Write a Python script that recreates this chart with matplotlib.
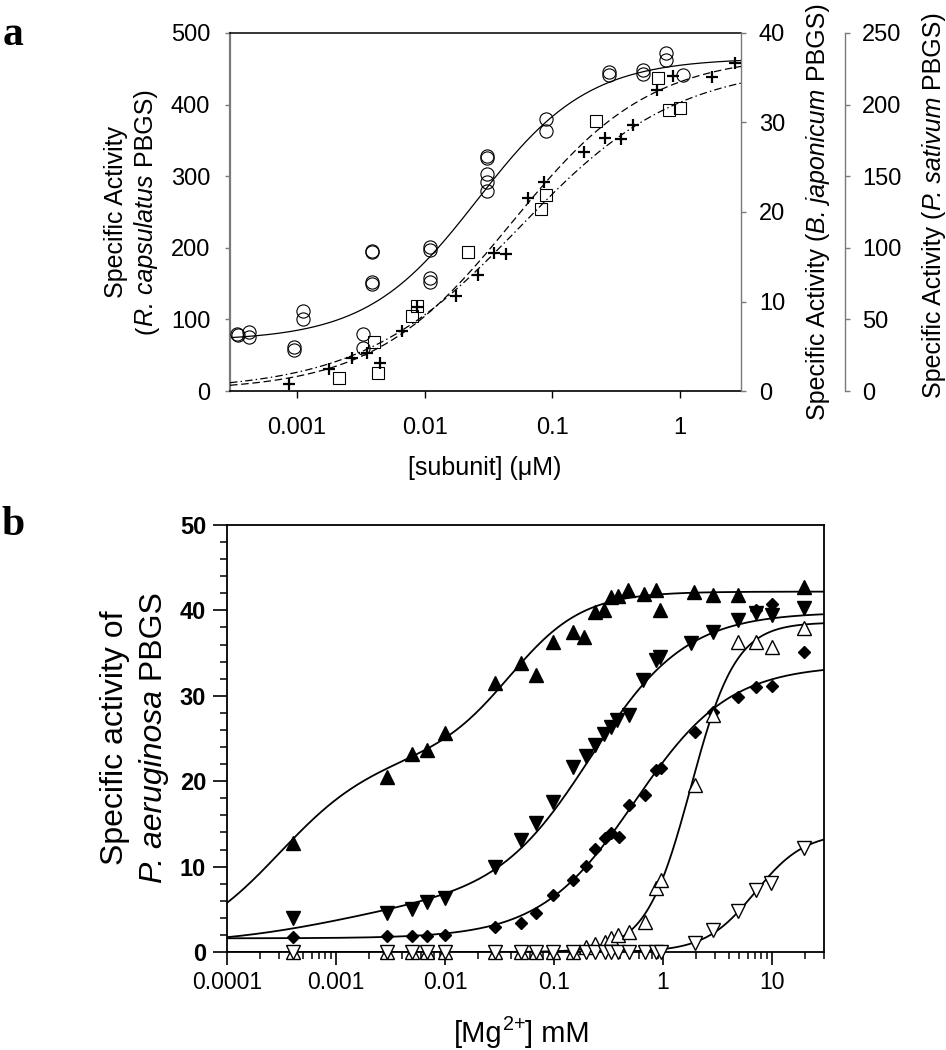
import numpy as np
import matplotlib
matplotlib.use("Agg")
import matplotlib.pyplot as plt
from matplotlib.transforms import IdentityTransform
from matplotlib.ticker import FixedLocator, FixedFormatter, NullLocator, LogLocator, MultipleLocator, NullFormatter

plt.rcParams['font.family'] = ['Liberation Sans', 'DejaVu Sans']

# ---------------- Panel a data ----------------
rc_x = [0.00034, 0.00035, 0.00042, 0.00042, 0.00095, 0.00095, 0.00111, 0.00111,
        0.00327, 0.00327, 0.00385, 0.00385, 0.00385, 0.00385,
        0.0111, 0.0111, 0.0111, 0.0111, 0.0308, 0.0308, 0.0308, 0.0308, 0.0308,
        0.089, 0.089, 0.275, 0.275, 0.507, 0.507, 0.78, 0.78, 1.055]
rc_y = [80, 78, 82, 76, 61, 57, 112, 100, 80, 60, 196, 194, 152, 150,
        201, 197, 158, 152, 328, 325, 303, 292, 280, 380, 363, 446, 441,
        448, 443, 472, 462, 441]

bj_x = [0.00216, 0.0040, 0.00436, 0.0080, 0.00877, 0.0219, 0.081, 0.089, 0.219, 0.675, 0.82, 1.0]
bj_y = [1.45, 5.5, 2.0, 8.4, 9.5, 15.5, 20.3, 21.9, 30.2, 35.0, 31.4, 31.6]

ps_x = [0.00087, 0.00178, 0.0027, 0.00357, 0.00444, 0.0066, 0.00877, 0.0177, 0.0262,
        0.035, 0.0435, 0.0646, 0.0857, 0.176, 0.26, 0.341, 0.43, 0.66, 0.88, 1.77, 2.7]
ps_y = [4.9, 15.4, 23, 26.5, 19.6, 42, 59, 66, 81, 96.4, 96, 135, 146, 167, 177,
        176, 186, 210, 220, 219, 229]

# fitted curve parameters (base, [(amplitude, K, n), ...])
rc_fit = (70, [(395, 0.026, 1.0)])
bj_fit = (0, [(36.5, 0.055, 0.70)])
ps_fit = (0, [(235, 0.048, 0.80)])

a_xticks = [0.001, 0.01, 0.1, 1]
a_xticklabels = ["0.001", "0.01", "0.1", "1"]

# ---------------- Panel b data ----------------
upf_x = [0.0004, 0.00295, 0.0050, 0.00686, 0.0100, 0.029, 0.0494, 0.0677, 0.0989, 0.148,
         0.19, 0.24, 0.29, 0.335, 0.39, 0.48, 0.67, 0.87, 0.94, 1.92, 2.86, 4.84, 19.5]
upf_y = [12.8, 20.5, 23.2, 23.7, 25.6, 31.5, 33.8, 32.4, 36.3, 37.5,
         36.9, 39.8, 40.0, 41.6, 41.7, 42.4, 41.9, 42.4, 40.0, 42.2, 41.8, 41.8, 42.7]

dnf_x = [0.0004, 0.00295, 0.005, 0.00686, 0.0100, 0.029, 0.0494, 0.0677, 0.0989, 0.148,
         0.195, 0.24, 0.29, 0.335, 0.38, 0.49, 0.66, 0.87, 0.94, 1.8, 2.86, 4.84, 7.1, 9.9, 19.5]
dnf_y = [4.0, 4.6, 5.0, 5.8, 6.3, 10.0, 13.1, 15.1, 17.6, 21.7,
         23.0, 24.2, 25.5, 26.3, 27.2, 27.8, 31.8, 34.2, 34.5, 36.2, 37.5, 38.9, 39.7, 39.5, 40.3]

dia_x = [0.0004, 0.00295, 0.005, 0.00686, 0.01, 0.029, 0.0494, 0.069, 0.0989, 0.15,
         0.195, 0.24, 0.295, 0.335, 0.395, 0.49, 0.68, 0.87, 0.95, 1.96, 2.86, 4.84,
         7.1, 9.9, 7.1, 9.9, 19.5]
dia_y = [1.8, 1.9, 1.9, 1.9, 2.0, 2.9, 3.4, 4.6, 6.7, 8.4,
         10.1, 12.1, 13.3, 13.9, 13.5, 17.2, 18.4, 21.3, 21.5, 25.8, 28.1, 29.9,
         31.0, 31.1, 40.0, 40.8, 35.1]

upo_x = [0.0004, 0.00295, 0.005, 0.00686, 0.01, 0.029, 0.0494, 0.069, 0.0989, 0.15,
         0.195, 0.24, 0.295, 0.335, 0.39, 0.49, 0.68, 0.87, 0.95, 1.96, 2.86, 4.84, 7.1, 9.9, 19.5]
upo_y = [0, 0, 0, 0, 0, 0, 0, 0, 0, 0,
         0.6, 0.9, 1.2, 1.6, 2.0, 2.4, 3.5, 7.5, 8.4, 19.6, 27.8, 36.3, 36.3, 35.7, 37.9]

dno_x = [0.0004, 0.00295, 0.005, 0.00686, 0.01, 0.029, 0.0494, 0.069, 0.0989, 0.15,
         0.195, 0.24, 0.295, 0.335, 0.39, 0.49, 0.68, 0.87, 0.95, 1.96, 2.9, 4.84, 7.1, 9.7, 19.5]
dno_y = [0, 0, 0, 0, 0, 0, 0, 0, 0, 0,
         0, 0, 0, 0, 0, 0, 0, 0, 0, 1.1, 2.6, 4.8, 7.3, 8.1, 12.2]

upf_fit = (0, [(23, 0.0003, 1.0), (19.2, 0.04, 1.3)])
dnf_fit = (0.8, [(5.5, 0.001, 0.7), (33.5, 0.22, 1.0)])
dia_fit = (1.6, [(32, 0.55, 1.0)])
upo_fit = (0, [(38.6, 1.8, 2.1)])
dno_fit = (0, [(14, 7.0, 1.9)])

b_xticks = [0.0001, 0.001, 0.01, 0.1, 1, 10]
b_xticklabels = ["0.0001", "0.001", "0.01", "0.1", "1", "10"]
b_yticks = [0, 10, 20, 30, 40, 50]


def hill(x, fit):
    base, terms = fit
    y = np.full_like(x, base, dtype=float)
    for A, K, n in terms:
        y += A * x ** n / (K ** n + x ** n)
    return y


W, H = 946, 1050
fig = plt.figure(figsize=(W / 100, H / 100), dpi=100)
renderer = fig.canvas.get_renderer()


def fx(px):
    return px / W


def fy(py):
    return 1 - py / H


def text_width(s, size, style):
    t = fig.text(0, 0, '|' + s + '|', fontsize=size, fontstyle=style)
    w1 = t.get_window_extent(renderer).width
    t.set_text('||')
    w2 = t.get_window_extent(renderer).width
    t.remove()
    return w1 - w2


def rich_label(cx, cy, lines, size, rotation=0, spacing=1.2):
    """Draw multi-style text centred at reference pixel (cx, cy).
    lines: list of lines, each a list of (text, style, scale, rise_em)."""
    X, Y = cx, H - cy
    em = size * 100 / 72
    n = len(lines)
    for k, pieces in enumerate(lines):
        widths = [text_width(s, size * sc, st) for s, st, sc, r in pieces]
        total = sum(widths)
        d = (k - (n - 1) / 2) * spacing * em + 0.36 * em
        a = -total / 2
        for (s, st, sc, r), w in zip(pieces, widths):
            rise = r * em
            if rotation == 0:
                x, y = X + a, Y - d + rise
            else:
                x, y = X + d - rise, Y + a
            fig.text(x, y, s, transform=IdentityTransform(), fontsize=size * sc,
                     fontstyle=st, rotation=rotation, rotation_mode='anchor',
                     ha='left', va='baseline')
            a += w


GRAY = '#7a7a7a'

# ================= Panel a =================
axL, axR, axT, axB = 230, 741, 33, 391
ax1 = fig.add_axes([fx(axL), fy(axB), fx(axR - axL), (axB - axT) / H])
ax1.set_xscale('log')
xmin_a, xmax_a = 10 ** -3.522, 10 ** 0.475
ax1.set_xlim(xmin_a, xmax_a)
ax1.set_ylim(0, 500)
ax2 = ax1.twinx()
ax2.set_ylim(0, 40)
ax3 = ax1.twinx()
ax3.set_ylim(0, 250)
ax3.spines['right'].set_position(('axes', (845 - axL) / (axR - axL)))

xa = np.logspace(np.log10(xmin_a), np.log10(xmax_a), 400)
ax1.plot(xa, hill(xa, rc_fit), color='black', lw=0.9, zorder=2)
ax1.plot(rc_x, rc_y, linestyle='none', marker='o', ms=9.5, mfc='none', mec='black',
         mew=0.8, clip_on=False, zorder=3)
ax2.plot(xa, hill(xa, bj_fit), color='black', lw=0.9, dashes=[6, 2.5, 1.2, 2.5])
ax2.plot(bj_x, bj_y, linestyle='none', marker='s', ms=8, mfc='none', mec='black',
         mew=0.8, clip_on=False)
ax3.plot(xa, hill(xa, ps_fit), color='black', lw=0.9, dashes=[6, 3])
ax3.plot(ps_x, ps_y, linestyle='none', marker='+', ms=8, mec='black', mew=1.6,
         clip_on=False)

for a in (ax1, ax2, ax3):
    for s in a.spines.values():
        s.set_visible(False)
ax1.spines['left'].set_visible(True)
ax1.spines['left'].set_color(GRAY)
ax1.spines['left'].set_linewidth(1.6)
ax1.spines['top'].set_visible(True)
ax1.spines['top'].set_linewidth(1.1)
ax1.spines['bottom'].set_visible(True)
ax1.spines['bottom'].set_linewidth(1.2)
for a in (ax2, ax3):
    a.spines['right'].set_visible(True)
    a.spines['right'].set_color(GRAY)
    a.spines['right'].set_linewidth(1.0)

ax1.xaxis.set_major_locator(FixedLocator(a_xticks))
ax1.xaxis.set_major_formatter(FixedFormatter(a_xticklabels))
ax1.xaxis.set_minor_locator(NullLocator())
ax1.yaxis.set_major_locator(MultipleLocator(100))
ax2.yaxis.set_major_locator(MultipleLocator(10))
ax3.yaxis.set_major_locator(MultipleLocator(50))
ax1.tick_params(axis='x', direction='out', length=5, width=1, pad=13.5, labelsize=17)
ax1.tick_params(axis='y', direction='out', length=3.8, width=1, color=GRAY, pad=10.5, labelsize=17)
ax2.tick_params(axis='y', direction='out', length=3.8, width=1, color=GRAY, pad=9, labelsize=17)
ax3.tick_params(axis='y', direction='out', length=3.8, width=1, color=GRAY, pad=8.5, labelsize=17)

rich_label(129, 212, [[("Specific Activity", 'normal', 1, 0)],
                      [("(", 'normal', 1, 0), ("R. capsulatus", 'italic', 1, 0),
                       (" PBGS)", 'normal', 1, 0)]], 18, rotation=90)
rich_label(485, 466, [[("[subunit] (\u03bcM)", 'normal', 1, 0)]], 18)
rich_label(816, 212, [[("Specific Activity (", 'normal', 1, 0),
                       ("B. japonicum", 'italic', 1, 0), (" PBGS)", 'normal', 1, 0)]],
           18, rotation=90)
rich_label(932, 205, [[("Specific Activity (", 'normal', 1, 0),
                       ("P. sativum", 'italic', 1, 0), (" PBGS)", 'normal', 1, 0)]],
           18, rotation=90)

# ================= Panel b =================
bL, bR, bT, bB = 227, 824, 525, 952
ax4 = fig.add_axes([fx(bL), fy(bB), fx(bR - bL), (bB - bT) / H])
ax4.set_xscale('log')
ax4.set_xlim(1e-4, 30)
ax4.set_ylim(0, 50)

xb = np.logspace(-4, np.log10(30), 500)
for fit in (upf_fit, dnf_fit, dia_fit, upo_fit, dno_fit):
    ax4.plot(xb, hill(xb, fit), color='black', lw=1.3, zorder=2)

ax4.plot(upf_x, upf_y, linestyle='none', marker='^', ms=9.5, mfc='black', mec='black',
         clip_on=False, zorder=3)
ax4.plot(dnf_x, dnf_y, linestyle='none', marker='v', ms=9.5, mfc='black', mec='black',
         clip_on=False, zorder=3)
ax4.plot(dia_x, dia_y, linestyle='none', marker='D', ms=6.5, mfc='black', mec='black',
         clip_on=False, zorder=3)
ax4.plot(upo_x, upo_y, linestyle='none', marker='^', ms=9.5, mfc='white', mec='black',
         mew=1.0, clip_on=False, zorder=4)
ax4.plot(dno_x, dno_y, linestyle='none', marker='v', ms=9.5, mfc='white', mec='black',
         mew=1.0, clip_on=False, zorder=4)

for s in ax4.spines.values():
    s.set_linewidth(1.3)
ax4.xaxis.set_major_locator(FixedLocator(b_xticks))
ax4.xaxis.set_major_formatter(FixedFormatter(b_xticklabels))
ax4.xaxis.set_minor_locator(LogLocator(base=10, subs=np.arange(2, 10)))
ax4.xaxis.set_minor_formatter(NullFormatter())
ax4.yaxis.set_major_locator(FixedLocator(b_yticks))
ax4.yaxis.set_minor_locator(MultipleLocator(2))
ax4.tick_params(axis='x', which='major', direction='out', length=9.5, width=1.2, pad=4, labelsize=16.5)
ax4.tick_params(axis='x', which='minor', direction='out', length=5, width=1.1)
ax4.tick_params(axis='y', which='major', direction='out', length=10, width=1.2, pad=5, labelsize=17)
ax4.tick_params(axis='y', which='minor', direction='out', length=5, width=1.1)
for lab in ax4.get_yticklabels():
    lab.set_fontweight('bold')

rich_label(131, 738, [[("Specific activity of", 'normal', 1, 0)],
                      [("P. aeruginosa", 'italic', 1, 0), (" PBGS", 'normal', 1, 0)]],
           23, rotation=90)
rich_label(522, 1032, [[("[Mg", 'normal', 1, 0), ("2+", 'normal', 0.68, 0.42),
                        ("] mM", 'normal', 1, 0)]], 21)

# panel letters
fig.text(fx(3), fy(45), "a", fontsize=30, fontweight='bold', family='Liberation Serif',
         ha='left', va='baseline')
fig.text(fx(1), fy(535), "b", fontsize=30, fontweight='bold', family='Liberation Serif',
         ha='left', va='baseline')

fig.savefig("out.png", dpi=100)
